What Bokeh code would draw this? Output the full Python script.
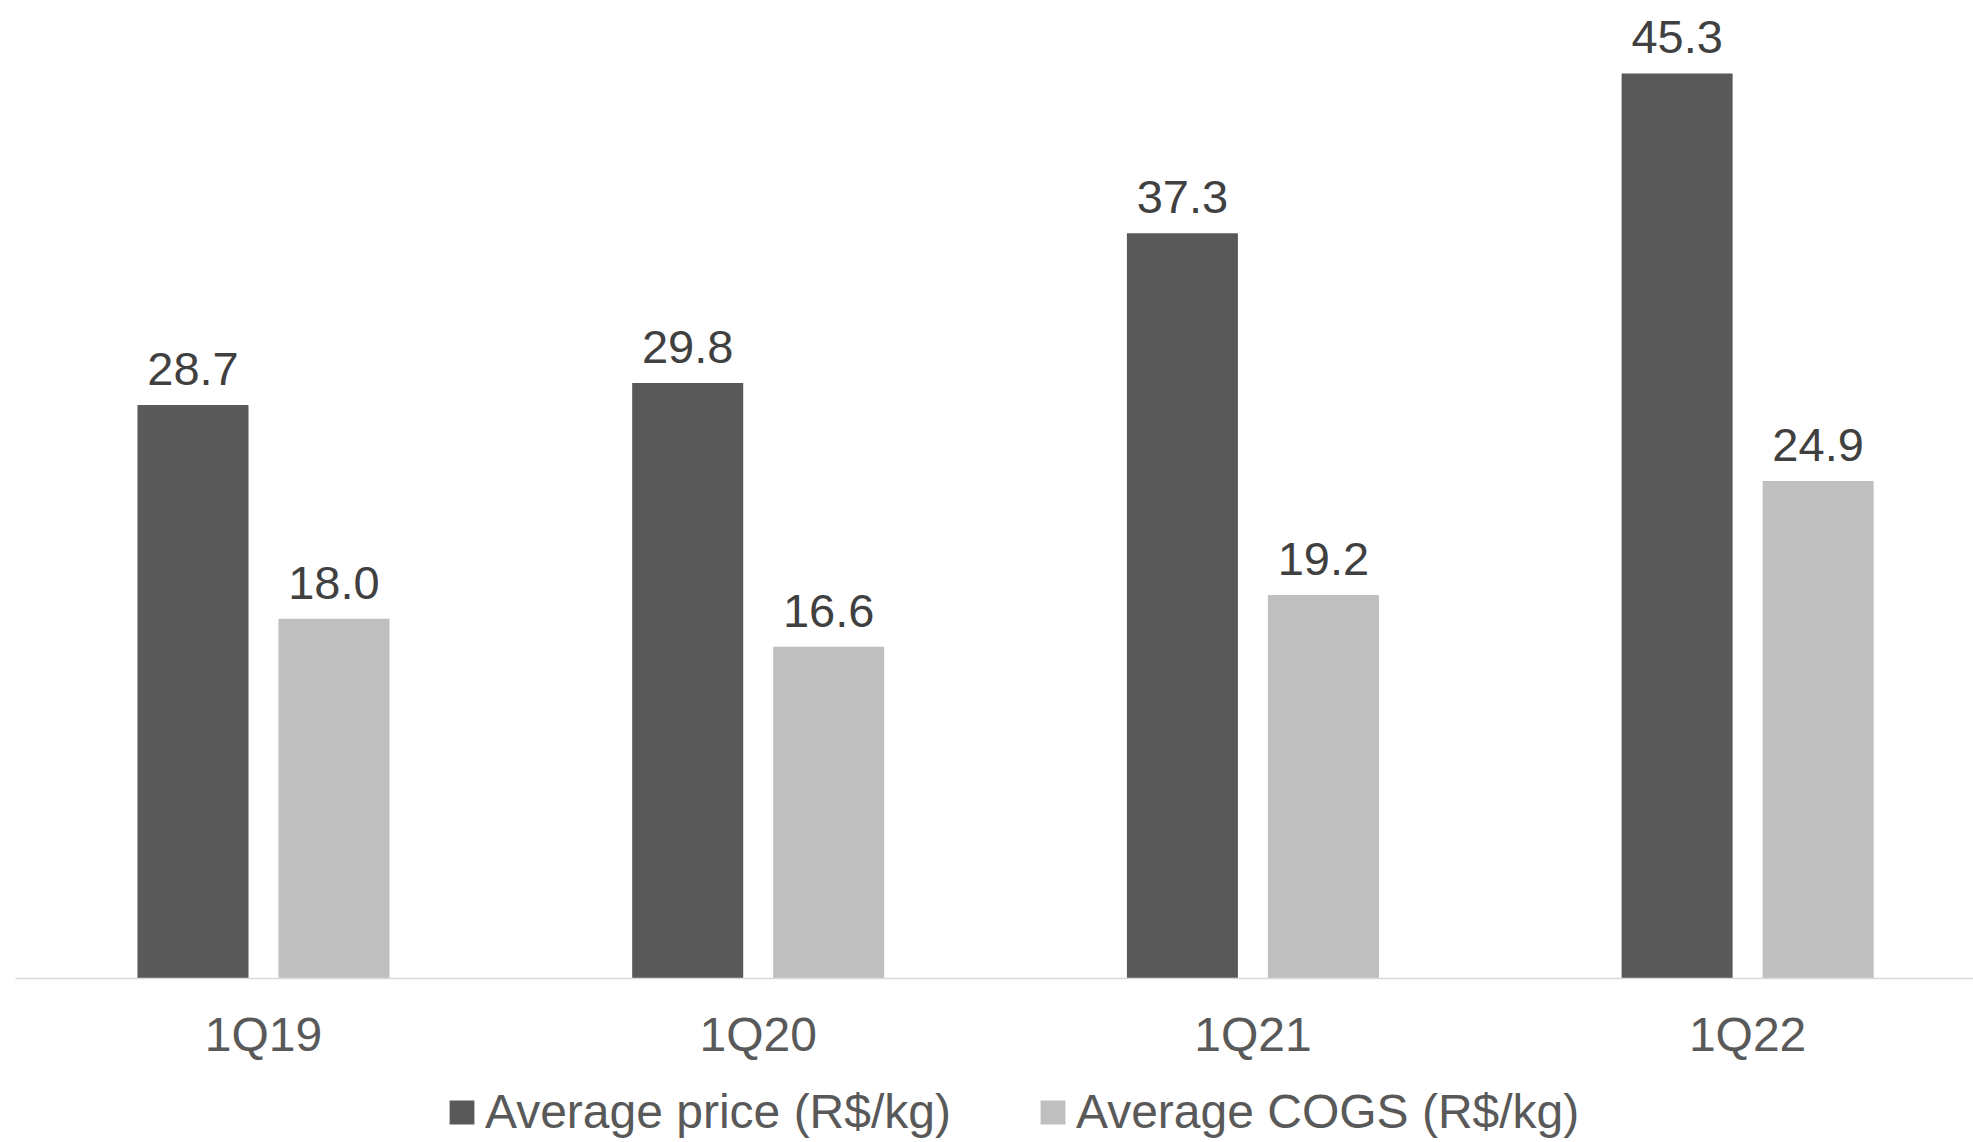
from bokeh.plotting import figure
from bokeh.models import ColumnDataSource, Range1d, FixedTicker, LabelSet, Legend, LegendItem
from bokeh.core.properties import value
from bokeh.embed import file_html
from bokeh.resources import INLINE

categories = ["1Q19", "1Q20", "1Q21", "1Q22"]
avg_price = [28.7, 29.8, 37.3, 45.3]
avg_cogs = [18.0, 16.6, 19.2, 24.9]
series_names = ["Average price (R$/kg)", "Average COGS (R$/kg)"]

DARK = "#595959"
LIGHT = "#bfbfbf"
FONT = "Liberation Sans"

xs = list(range(len(categories)))
off = 0.1425
bw = 0.2244

src_p = ColumnDataSource(dict(x=[v - off for v in xs], top=avg_price,
                              lab=[f"{v:.1f}" for v in avg_price]))
src_c = ColumnDataSource(dict(x=[v + off for v in xs], top=avg_cogs,
                              lab=[f"{v:.1f}" for v in avg_cogs]))

p = figure(width=1973, height=1142, output_backend="svg", toolbar_location=None,
           x_range=Range1d(-0.5316, 3.4566), y_range=Range1d(-8.208, 48.95),
           min_border_left=0, min_border_right=0, min_border_top=0, min_border_bottom=0)
p.outline_line_color = None
p.xgrid.visible = False
p.ygrid.visible = False
p.yaxis.visible = False
p.background_fill_color = "white"
p.border_fill_color = "white"

r1 = p.vbar(x="x", top="top", width=bw, source=src_p, fill_color=DARK, line_color=None)
r2 = p.vbar(x="x", top="top", width=bw, source=src_c, fill_color=LIGHT, line_color=None)

for s in (src_p, src_c):
    p.add_layout(LabelSet(x="x", y="top", text="lab", source=s, text_align="center",
                          text_baseline="alphabetic", y_offset=20,
                          text_font=value(FONT), text_font_size=value("47px"),
                          text_color="#404040"))

ax = p.xaxis[0]
ax.fixed_location = 0
ax.bounds = (-0.501, 3.4566)
ax.ticker = FixedTicker(ticks=xs)
ax.major_label_overrides = {i: c for i, c in enumerate(categories)}
ax.major_tick_line_color = None
ax.minor_tick_line_color = None
ax.major_tick_out = 0
ax.major_tick_in = 0
ax.axis_line_color = "#d9d9d9"
ax.axis_line_width = 1.5
ax.major_label_text_font = FONT
ax.major_label_text_font_size = "48px"
ax.major_label_text_color = "#595959"
ax.major_label_standoff = 29

legend = Legend(items=[LegendItem(label=series_names[0], renderers=[r1]),
                       LegendItem(label=series_names[1], renderers=[r2])],
                orientation="horizontal", location=(446, 3),
                glyph_width=31, glyph_height=30, label_standoff=8, spacing=86,
                label_text_font=FONT, label_text_font_size="48px", label_text_color="#595959",
                border_line_color=None, background_fill_alpha=0, padding=0,
                margin=0)
p.add_layout(legend, "center")

open("out.html", "w").write(file_html(p, INLINE))
